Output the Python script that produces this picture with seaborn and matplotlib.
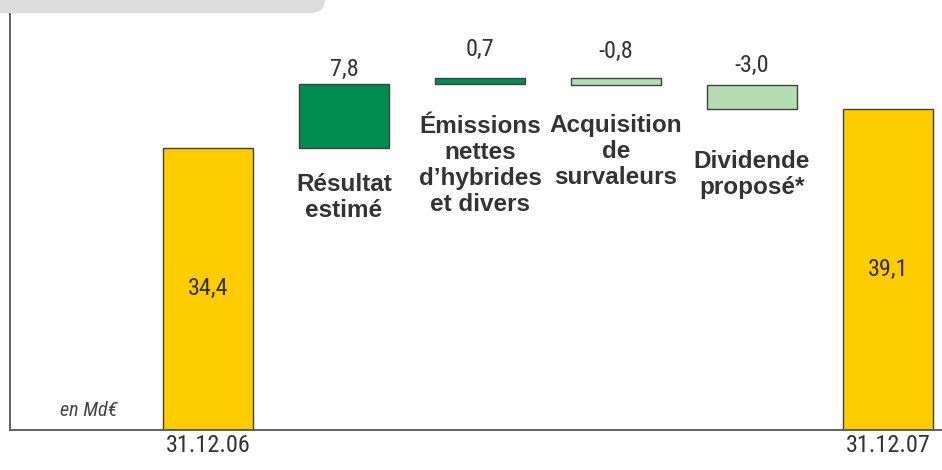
import numpy as np
import pandas as pd
import matplotlib
matplotlib.use("Agg")
import matplotlib.pyplot as plt
from matplotlib.patches import FancyBboxPatch
from matplotlib.transforms import IdentityTransform
import seaborn as sns

# data
steps = ["31.12.06", "Résultat\nestimé", "Émissions\nnettes\nd’hybrides\net divers",
         "Acquisition\nde\nsurvaleurs", "Dividende\nproposé*", "31.12.07"]
values = [34.4, 7.8, 0.7, -0.8, -3.0, 39.1]
kinds = ["total", "up", "up", "down", "down", "total"]
value_text = ["34,4", "7,8", "0,7", "-0,8", "-3,0", "39,1"]

colors = {"total": "#FFCC00", "up": "#008C4F", "down": "#B5DDB4"}
narrow = ["Roboto Condensed", "DejaVu Sans"]
txt_col = "#333333"

# running totals -> bottoms
bottoms = []
running = 0.0
for v, k in zip(values, kinds):
    if k == "total":
        bottoms.append(0.0)
        running = v
    elif v >= 0:
        bottoms.append(running)
        running += v
    else:
        running += v
        bottoms.append(running)
heights = [abs(v) for v in values]

df = pd.DataFrame({"step": steps, "height": heights, "kind": kinds})

sns.set_style("white")
fig = plt.figure(figsize=(9.42, 4.70), dpi=100)
ax = fig.add_axes([10 / 942, 40 / 470, 932 / 942, 430 / 470])

sns.barplot(data=df, x="step", y="height", hue="step",
            palette=[colors[k] for k in kinds], width=0.66, saturation=1,
            edgecolor="#404040", linewidth=1.0, legend=False, ax=ax)

# lift each bar onto its running total
for patch, b in zip(ax.patches, bottoms):
    patch.set_y(b)

ax.set_xlim(-1.456, 5.397)
ax.set_ylim(0, 52.44)
ax.set_yticks([])
ax.set_xlabel("")
ax.set_ylabel("")
ax.set_xticks(range(len(steps)))
ax.set_xticklabels([s if k == "total" else "" for s, k in zip(steps, kinds)],
                   fontsize=17.5, family=narrow, color=txt_col)
ax.tick_params(axis="x", length=0, pad=3)
for side in ["top", "right"]:
    ax.spines[side].set_visible(False)
for side in ["left", "bottom"]:
    ax.spines[side].set_color("#555555")
    ax.spines[side].set_linewidth(1.3)

# value labels and step names
value_gap = [0, 2.5, 12.5, 11, 5.5, 0]
name_gap = [0, 18, 22, 21, 29, 0]
for i, (v, k) in enumerate(zip(values, kinds)):
    top = bottoms[i] + heights[i]
    if k == "total":
        ax.text(i, top / 2, value_text[i], ha="center", va="center",
                fontsize=17.5, family=narrow, color=txt_col)
    else:
        ax.annotate(value_text[i], (i, top), xytext=(0, value_gap[i]),
                    textcoords="offset points", ha="center", va="bottom",
                    fontsize=17.5, family=narrow, color=txt_col)
        ax.annotate(steps[i], (i, bottoms[i]), xytext=(0, -name_gap[i]),
                    textcoords="offset points", ha="center", va="top",
                    fontsize=17.5, fontweight="bold", family="Liberation Sans",
                    color=txt_col, linespacing=1.18, multialignment="center")

ax.text(-0.88, 2.4, "en Md€", ha="center", va="center", fontsize=14.5,
        family=narrow, style="italic", color="#444444")

# grey header tab
tab = FancyBboxPatch((-30, 470 - 13), 355, 60,
                     boxstyle="round,pad=0,rounding_size=14",
                     transform=IdentityTransform(), facecolor="#DCDCDC",
                     edgecolor="none", zorder=10)
fig.patches.append(tab)

fig.savefig("out.png", dpi=100)
